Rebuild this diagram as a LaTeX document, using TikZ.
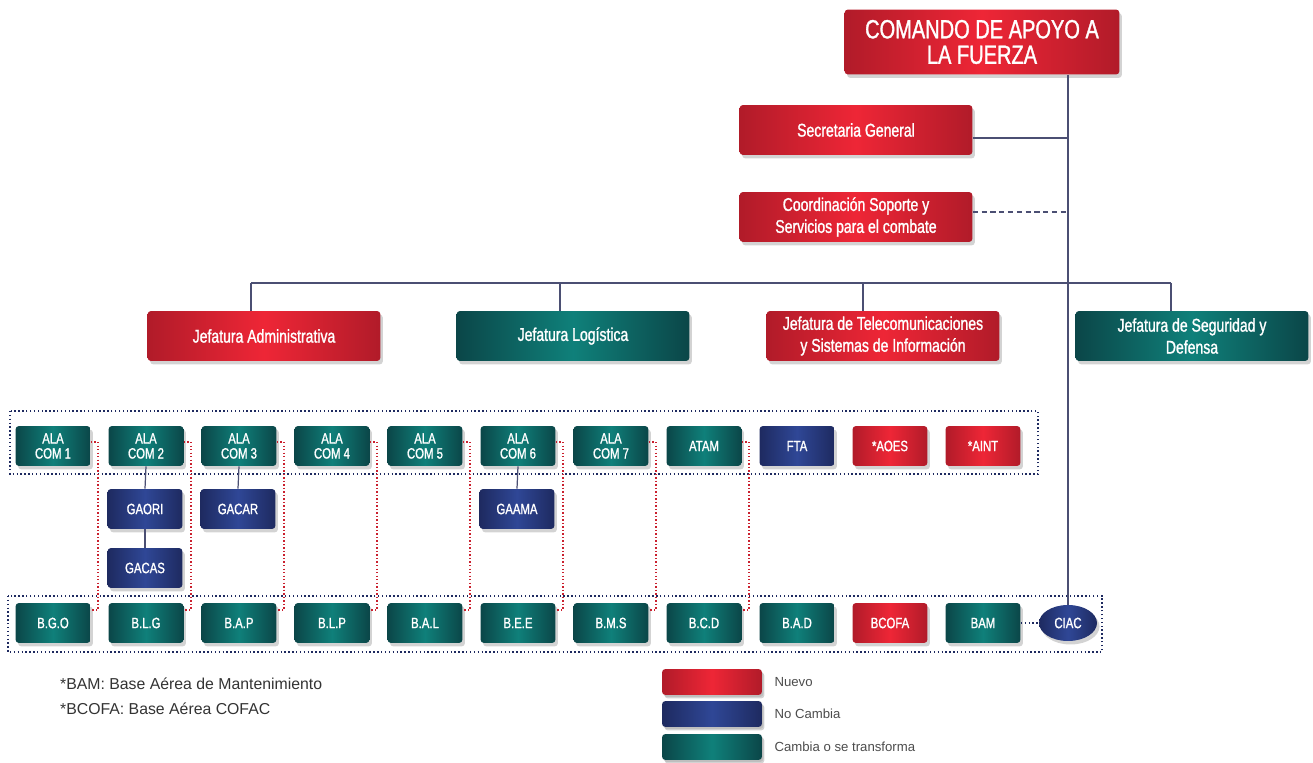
\documentclass[tikz,border=0pt]{standalone}
\usepackage{fontspec}
\setmainfont{Liberation Sans}
\newfontfamily\condfont{Liberation Sans}[FakeStretch=0.76, FakeBold=1.2]
\usetikzlibrary{positioning,shadows,shapes.geometric}
\definecolor{rojoC}{HTML}{EE2636}
\definecolor{rojoO}{HTML}{B11B29}
\definecolor{azulC}{HTML}{2F4796}
\definecolor{azulO}{HTML}{1E2A60}
\definecolor{verdeC}{HTML}{0F807A}
\definecolor{verdeO}{HTML}{0B4648}
\definecolor{lineaC}{HTML}{4B4F73}
\begin{document}
\begin{tikzpicture}[x=0.02cm, y=-0.02cm,
    caja/.style={rounded corners=2pt, text=white, align=center, inner sep=1pt,
      font=\condfont\fontsize{10.5}{12.5}\selectfont,
      drop shadow={opacity=0.35, shadow xshift=0.05cm, shadow yshift=-0.07cm}},
    roja/.style={caja, left color=rojoO, right color=rojoO, middle color=rojoC},
    azul/.style={caja, left color=azulO, right color=azulO, middle color=azulC},
    verde/.style={caja, left color=verdeO, right color=verdeO, middle color=verdeC},
    grande/.style={minimum width=4.66cm, minimum height=1.0cm},
    unidad/.style={minimum width=1.5cm, minimum height=0.8cm, font=\condfont\fontsize{8.5}{8.5}\selectfont},
    leyenda/.style={minimum width=2.0cm, minimum height=0.52cm, drop shadow={opacity=0.25, shadow xshift=0.03cm, shadow yshift=-0.04cm}},
    linea/.style={draw=lineaC, line width=0.7pt},
    marco/.style={draw=azulO, line width=1pt, dash pattern=on 0.8pt off 1.4pt},
    puntosrojos/.style={draw=rojoC!85!black, line width=0.8pt, dash pattern=on 0.8pt off 1.2pt}]
  \useasboundingbox (0,0) rectangle (1313,763);

  % 顶层
  \node[roja, minimum width=5.5cm, minimum height=1.3cm, font=\condfont\fontsize{15}{14.5}\selectfont] (cmd) at (982,42) {COMANDO DE APOYO A\\LA FUERZA};
  \node[roja, grande] (sec) at (856,130) {Secretaria General};
  \node[roja, grande] (coord) at (856,217) {Coordinación Soporte\ y\\Servicios\ para\ el combate};

  % 各局
  \node[roja, grande] (jadm) at (264,336) {Jefatura Administrativa};
  \node[verde, grande] (jlog) at (573,336) {Jefatura Logística};
  \node[roja, grande] (jtel) at (883,336) {Jefatura de Telecomunicaciones\\y Sistemas de Información};
  \node[verde, grande] (jseg) at (1192,336) {Jefatura de Seguridad y\\Defensa};

  % 虚线框
  \draw[marco] (10,411) rectangle (1038,474);
  \draw[marco] (8,596) rectangle (1102,652);

  % 上排
  \foreach \lbl/\sty [count=\i] in {{ALA\\COM 1}/verde, {ALA\\COM 2}/verde, {ALA\\COM 3}/verde,
      {ALA\\COM 4}/verde, {ALA\\COM 5}/verde, {ALA\\COM 6}/verde, {ALA\\COM 7}/verde,
      ATAM/verde, FTA/azul, *AOES/roja, *AINT/roja}
    \node[\sty, unidad] (a\i) at ({53+93*(\i-1)},446) {\lbl};

  % 下排
  \foreach \lbl/\sty [count=\i] in {B.G.O/verde, B.L.G/verde, B.A.P/verde, B.L.P/verde,
      B.A.L/verde, B.E.E/verde, B.M.S/verde, B.C.D/verde, B.A.D/verde, BCOFA/roja, BAM/verde}
    \node[\sty, unidad] (b\i) at ({53+93*(\i-1)},623) {\lbl};
  \node[ellipse, azul, minimum width=1.16cm, minimum height=0.72cm, inner sep=0pt,
    font=\condfont\fontsize{8.5}{8.5}\selectfont] (ciac) at (1068,623) {CIAC};

  % 中间
  \node[azul, unidad] (gaori) at (145,509) {GAORI};
  \node[azul, unidad] (gacas) at (145,568) {GACAS};
  \node[azul, unidad] (gacar) at (238,509) {GACAR};
  \node[azul, unidad] (gaama) at (517,509) {GAAMA};

  % 连线
  \draw[linea] (cmd.south -| ciac.north) -- (ciac.north);
  \draw[linea] ([yshift=-0.16cm]sec.east) -- ([yshift=-0.16cm]sec.east -| ciac.north);
  \draw[linea, densely dashed] ([yshift=0.1cm]coord.east) -- ([yshift=0.1cm]coord.east -| ciac.north);
  \coordinate (bus) at (0,283);
  \draw[linea] ([xshift=-0.26cm]jadm.north |- bus) -- ([xshift=-0.42cm]jseg.north |- bus);
  \foreach \j/\d in {jadm/0.26cm, jlog/0.26cm, jtel/0.4cm, jseg/0.42cm}
    \draw[linea] ([xshift=-\d]\j.north |- bus) -- ([xshift=-\d]\j.north);
  \draw[linea] (a2.south) -- (gaori.north);
  \draw[linea] (gaori.south) -- (gacas.north);
  \draw[linea] (a3.south) -- (gacar.north);
  \draw[linea] (a6.south) -- (gaama.north);
  \draw[marco] (b11.east) -- (ciac.west);
  \foreach \i in {1,...,8}
    \draw[puntosrojos] ([yshift=0.08cm]a\i.east) -- ++(7,0) |- ([yshift=0.26cm]b\i.east);

  % 注释
  \node[anchor=west, text=black!80, font=\fontsize{9}{11}\selectfont] (nota1) at (54,684) {*BAM: Base Aérea de Mantenimiento};
  \node[anchor=west, text=black!80, font=\fontsize{9}{11}\selectfont] (nota2) at (54,709) {*BCOFA: Base Aérea COFAC};

  % 图例
  \node[roja, leyenda] (ley1) at (712,682) {};
  \node[azul, leyenda] (ley2) at (712,714) {};
  \node[verde, leyenda] (ley3) at (712,747) {};
  \node[right=0.12cm of ley1, text=black!70, font=\fontsize{7.5}{9}\selectfont] {Nuevo};
  \node[right=0.12cm of ley2, text=black!70, font=\fontsize{7.5}{9}\selectfont] {No Cambia};
  \node[right=0.12cm of ley3, text=black!70, font=\fontsize{7.5}{9}\selectfont] {Cambia o se transforma};
\end{tikzpicture}
\end{document}
